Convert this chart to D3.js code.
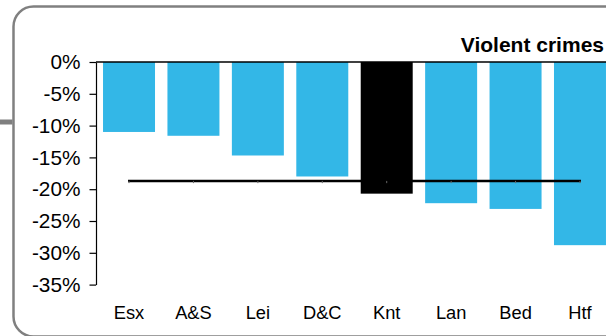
<!DOCTYPE html>
<html><head><meta charset="utf-8">
<script src="https://cdn.jsdelivr.net/npm/d3@7"></script>
<style>html,body{margin:0;padding:0;background:#fff;overflow:hidden}</style>
</head><body>
<svg id="c" width="606" height="336"></svg>
<script>
const categories = ["Esx","A&S","Lei","D&C","Knt","Lan","Bed","Htf"];
const values = [-11.0,-11.6,-14.7,-18.0,-20.7,-22.2,-23.1,-28.8];
const highlight = ["Knt"];
const average = -18.7;
const yTicks = [0,-5,-10,-15,-20,-25,-30,-35];
const title = "Violent crimes";

const svg = d3.select("#c");
const font = "'Liberation Sans', Arial, sans-serif";

// frame
svg.append("rect").attr("x",13.5).attr("y",6.5).attr("width",640).attr("height",330)
  .attr("rx",20).attr("ry",20).attr("fill","none").attr("stroke","#808080").attr("stroke-width",2.5);
svg.append("line").attr("x1",0).attr("x2",12.5).attr("y1",122).attr("y2",122)
  .attr("stroke","#7f7f7f").attr("stroke-width",5);

const x = d3.scaleBand().domain(categories).range([96,613]).paddingInner(0.193).paddingOuter(0.109);
const y = d3.scaleLinear().domain([0,-35]).range([62,284.6]);

// bars
svg.selectAll("rect.bar").data(values).enter().append("rect")
  .attr("class","bar")
  .attr("x",(d,i)=>x(categories[i]))
  .attr("width",x.bandwidth())
  .attr("y",y(0))
  .attr("height",d=>y(d)-y(0))
  .attr("fill",(d,i)=>highlight.includes(categories[i])?"#000":"#33b7e7");

// y axis
const yAxis = d3.axisLeft(y).tickValues(yTicks).tickFormat(d=>d+"%").tickSize(6.5).tickSizeOuter(0).tickPadding(9);
const ga = svg.append("g").attr("transform","translate(96,0)").call(yAxis);
ga.select(".domain").attr("stroke","#000").attr("stroke-width",1.2);
ga.selectAll(".tick line").attr("stroke","#000").attr("stroke-width",1.2);
ga.selectAll("text").attr("font-family",font).attr("font-size","20.8px").attr("fill","#000");

// zero line
svg.append("line").attr("x1",96).attr("x2",606).attr("y1",y(0)).attr("y2",y(0))
  .attr("stroke","#000").attr("stroke-width",1.5);

// average line
const c0 = x(categories[0])+x.bandwidth()/2, c1 = x(categories[categories.length-1])+x.bandwidth()/2;
svg.append("line").attr("x1",c0-1).attr("x2",c1+1).attr("y1",y(average)).attr("y2",y(average))
  .attr("stroke","#000").attr("stroke-width",2.6);
svg.selectAll("line.mk").data(categories).enter().append("line").attr("class","mk")
  .attr("x1",d=>x(d)+x.bandwidth()/2).attr("x2",d=>x(d)+x.bandwidth()/2)
  .attr("y1",y(average)).attr("y2",y(average)+2.2).attr("stroke","#666").attr("stroke-width",1);

// category labels
svg.selectAll("text.cat").data(categories).enter().append("text").attr("class","cat")
  .attr("x",d=>x(d)+x.bandwidth()/2).attr("y",319)
  .attr("text-anchor","middle").attr("font-family",font).attr("font-size","18.3px").attr("fill","#000")
  .text(d=>d);

// title
svg.append("text").attr("x",604).attr("y",52).attr("text-anchor","end").attr("font-family",font).attr("font-weight","bold")
  .attr("font-size","21px").attr("fill","#000").text(title);
</script>
</body></html>
